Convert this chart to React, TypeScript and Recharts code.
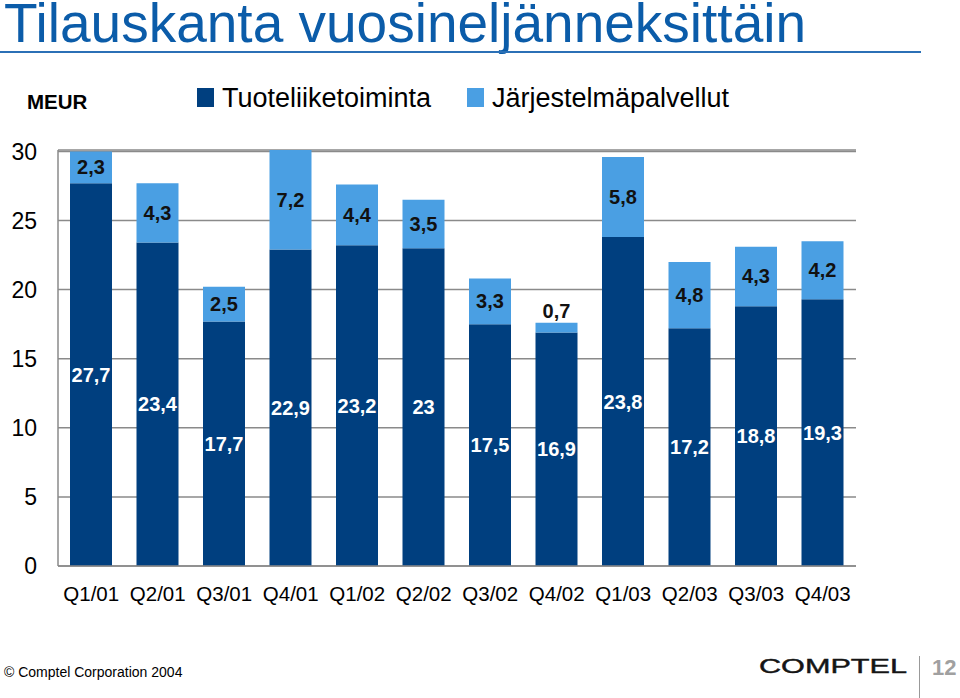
import React from 'react';
import { BarChart, Bar, XAxis, YAxis, CartesianGrid, LabelList } from 'recharts';

const quarters = ['Q1/01', 'Q2/01', 'Q3/01', 'Q4/01', 'Q1/02', 'Q2/02', 'Q3/02', 'Q4/02', 'Q1/03', 'Q2/03', 'Q3/03', 'Q4/03'];
const tuoteliiketoiminta = [27.7, 23.4, 17.7, 22.9, 23.2, 23, 17.5, 16.9, 23.8, 17.2, 18.8, 19.3];
const jarjestelmapalvellut = [2.3, 4.3, 2.5, 7.2, 4.4, 3.5, 3.3, 0.7, 5.8, 4.8, 4.3, 4.2];
const yTicks = [0, 5, 10, 15, 20, 25, 30];

const DARK = '#003f7f';
const LIGHT = '#4a9fe3';
const FONT = '"Liberation Sans", Arial, sans-serif';

const data = quarters.map((q, i) => ({
  q,
  tuote: tuoteliiketoiminta[i],
  jarj: jarjestelmapalvellut[i],
}));

const fmt = (v: number) => String(v).replace('.', ',');

const makeLabel = (color: string) => (props: any) => {
  const { x, y, width, height, value } = props;
  const cx = Number(x) + Number(width) / 2;
  let cy = Number(y) + Number(height) / 2;
  const small = Math.abs(Number(height)) < 22;
  if (small) cy = Number(y) - 12;
  const fill = small ? '#111' : color;
  return (
    <text x={cx} y={cy} textAnchor="middle" dominantBaseline="central" fill={fill}
      style={{ fontFamily: FONT, fontSize: 20, fontWeight: 'bold' }}>
      {fmt(value)}
    </text>
  );
};

export default function App() {
  return (
    <div style={{ position: 'absolute', left: 0, top: 0, width: 960, height: 698, background: '#fff', overflow: 'hidden', fontFamily: FONT }}>
      <div style={{ position: 'absolute', left: 4, top: 1, fontSize: 55, lineHeight: '44px', color: '#0b5ca9', whiteSpace: 'nowrap' }}>
        Tilauskanta vuosineljänneksittäin
      </div>
      <div style={{ position: 'absolute', left: 0, top: 51, width: 921, height: 2, background: '#2b70b6' }} />
      <div style={{ position: 'absolute', left: 27, top: 90, fontSize: 20.5, fontWeight: 'bold', color: '#000' }}>MEUR</div>
      <div style={{ position: 'absolute', left: 197, top: 88, width: 17, height: 19, background: DARK }} />
      <div style={{ position: 'absolute', left: 222, top: 83, fontSize: 27, color: '#000', whiteSpace: 'nowrap' }}>Tuoteliiketoiminta</div>
      <div style={{ position: 'absolute', left: 467, top: 88, width: 17, height: 19, background: LIGHT }} />
      <div style={{ position: 'absolute', left: 492, top: 83, fontSize: 27, color: '#000', whiteSpace: 'nowrap' }}>Järjestelmäpalvellut</div>

      <div style={{ position: 'absolute', left: 0, top: 0 }}>
        <BarChart width={960} height={698} data={data} margin={{ top: 150, right: 104, bottom: 102, left: 8 }}>
          <CartesianGrid vertical={false} stroke="#8a8a8a" strokeWidth={1.5} />
          <XAxis dataKey="q" axisLine={{ stroke: '#8a8a8a', strokeWidth: 1.5 }} tickLine={false} tickMargin={14}
            tick={{ fill: '#000', fontSize: 20.5, fontFamily: FONT }} interval={0} />
          <YAxis width={50} domain={[0, 30]} ticks={yTicks} axisLine={{ stroke: '#8a8a8a', strokeWidth: 1.5 }} tickLine={false}
            tickMargin={15} tick={{ fill: '#000', fontSize: 23, fontFamily: FONT }} interval={0} />
          <Bar dataKey="tuote" stackId="a" fill={DARK} barSize={42} isAnimationActive={false}>
            <LabelList dataKey="tuote" content={makeLabel('#fff')} />
          </Bar>
          <Bar dataKey="jarj" stackId="a" fill={LIGHT} barSize={42} isAnimationActive={false}>
            <LabelList dataKey="jarj" content={makeLabel('#111')} />
          </Bar>
        </BarChart>
      </div>

      <div style={{ position: 'absolute', left: 4, top: 664, fontSize: 14, color: '#000', whiteSpace: 'nowrap' }}>© Comptel Corporation 2004</div>
      <div style={{ position: 'absolute', left: 759, top: 655, fontSize: 19.5, color: '#151515', WebkitTextStroke: '0.4px #151515', transform: 'scaleX(1.57)', transformOrigin: 'left', whiteSpace: 'nowrap' }}>COMPTEL</div>
      <div style={{ position: 'absolute', left: 919, top: 656, width: 1, height: 42, background: '#999' }} />
      <div style={{ position: 'absolute', left: 932, top: 655, fontSize: 22, fontWeight: 'bold', color: '#a0a0a0' }}>12</div>
    </div>
  );
}
